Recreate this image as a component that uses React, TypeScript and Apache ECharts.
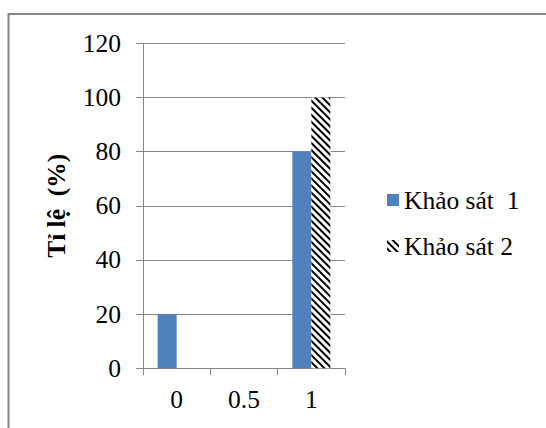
import React, { useEffect, useRef } from "react";
import * as echarts from "echarts";

const categories = ["0", "0.5", "1"];
const survey1 = [20, 0, 80];
const survey2 = [0, 0, 100];
const seriesNames = ["Khảo sát  1", "Khảo sát 2"];
const yAxisName = "Tỉ lệ  (%)";

const FONT = "Liberation Serif";
const GRAY = "#868686";
const FS = 25.5;

export default function App() {
  const ref = useRef<HTMLDivElement>(null);
  useEffect(() => {
    if (!ref.current) return;
    const chart = echarts.init(ref.current, null, { renderer: "svg" });
    chart.setOption({
      animation: false,
      backgroundColor: "#fff",
      textStyle: { fontFamily: FONT },
      grid: { left: 143, right: 201, top: 43.3, bottom: 59.7, containLabel: false },
      graphic: [
        {
          type: "rect",
          shape: { x: 8.5, y: 14, width: 600, height: 500 },
          style: { fill: "none", stroke: GRAY, lineWidth: 2 },
          silent: true,
        },
      ],
      legend: {
        orient: "vertical",
        left: 387,
        top: 187,
        padding: 0,
        itemWidth: 12,
        itemHeight: 12,
        itemGap: 20,
        icon: "rect",
        textStyle: { fontFamily: FONT, fontSize: FS, color: "#000" },
        data: seriesNames,
      },
      xAxis: {
        type: "category",
        data: categories,
        axisLine: { lineStyle: { color: GRAY, width: 1 } },
        axisTick: { show: true, length: 7, alignWithLabel: false, lineStyle: { color: GRAY } },
        axisLabel: { fontFamily: FONT, fontSize: FS, color: "#000", margin: 18 },
      },
      yAxis: {
        type: "value",
        min: 0,
        max: 120,
        interval: 20,
        name: yAxisName,
        nameLocation: "middle",
        nameGap: 74,
        nameTextStyle: { fontFamily: FONT, fontSize: FS, fontWeight: "bold", color: "#000" },
        axisLine: { show: true, lineStyle: { color: GRAY, width: 1 } },
        axisTick: { show: true, length: 7, lineStyle: { color: GRAY } },
        axisLabel: { fontFamily: FONT, fontSize: FS, color: "#000", margin: 22 },
        splitLine: { show: true, lineStyle: { color: GRAY, width: 1 } },
      },
      series: [
        {
          name: seriesNames[0],
          type: "bar",
          data: survey1,
          barWidth: 19,
          barGap: "0%",
          itemStyle: { color: "#4F81BD" },
        },
        {
          name: seriesNames[1],
          type: "bar",
          data: survey2,
          barWidth: 19,
          barGap: "0%",
          itemStyle: {
            color: "#fff",
            decal: {
              symbol: "rect",
              symbolSize: 1,
              dashArrayX: [1, 0],
              dashArrayY: [2, 2.5],
              rotation: Math.PI / 4,
              color: "#000",
            },
          },
        },
      ],
    });
    return () => chart.dispose();
  }, []);
  return (
    <div
      ref={ref}
      style={{ position: "fixed", left: 0, top: 0, width: 546, height: 428, background: "#fff" }}
    />
  );
}
